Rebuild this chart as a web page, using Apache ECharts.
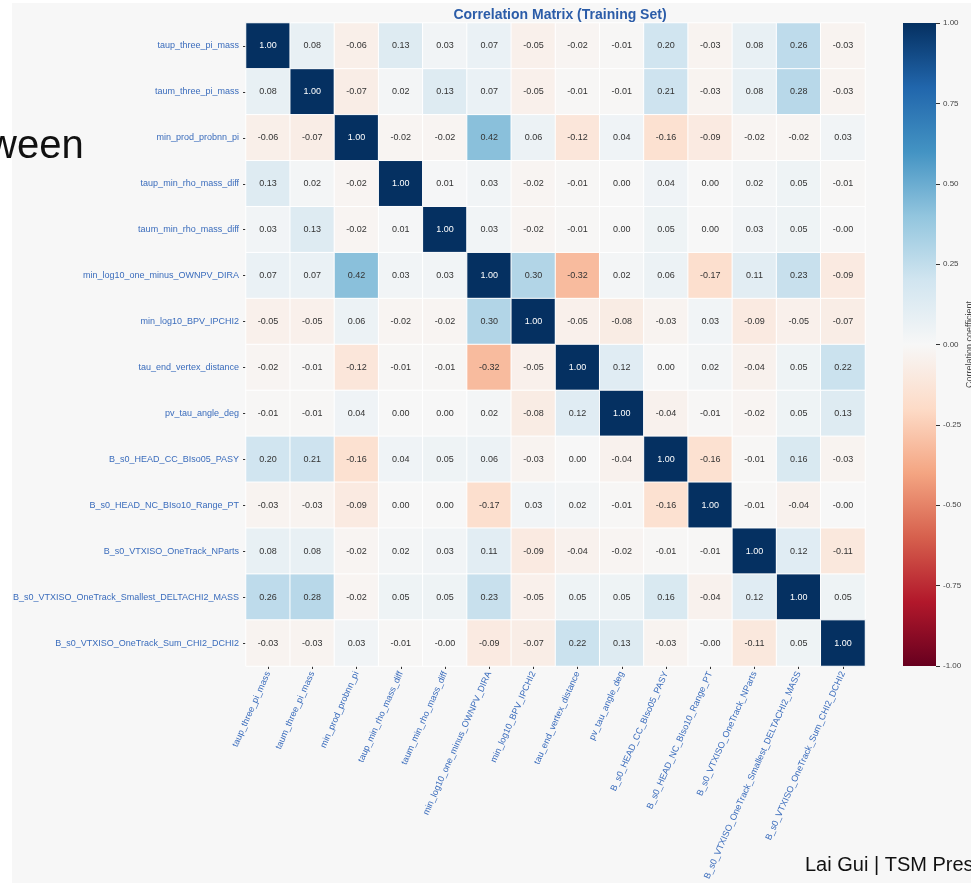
<!DOCTYPE html>
<html>
<head>
<meta charset="utf-8">
<script src="https://cdn.jsdelivr.net/npm/echarts@6/dist/echarts.min.js"></script>
<style>
html,body{margin:0;padding:0;background:#ffffff;}
#chart{width:971px;height:883px;}
</style>
</head>
<body>
<div id="chart"></div>
<script>
var variables = [
  "taup_three_pi_mass",
  "taum_three_pi_mass",
  "min_prod_probnn_pi",
  "taup_min_rho_mass_diff",
  "taum_min_rho_mass_diff",
  "min_log10_one_minus_OWNPV_DIRA",
  "min_log10_BPV_IPCHI2",
  "tau_end_vertex_distance",
  "pv_tau_angle_deg",
  "B_s0_HEAD_CC_BIso05_PASY",
  "B_s0_HEAD_NC_BIso10_Range_PT",
  "B_s0_VTXISO_OneTrack_NParts",
  "B_s0_VTXISO_OneTrack_Smallest_DELTACHI2_MASS",
  "B_s0_VTXISO_OneTrack_Sum_CHI2_DCHI2"
];

var row_taup_three_pi_mass = [1.00, 0.08, -0.06, 0.13, 0.03, 0.07, -0.05, -0.02, -0.01, 0.20, -0.03, 0.08, 0.26, -0.03];
var row_taum_three_pi_mass = [0.08, 1.00, -0.07, 0.02, 0.13, 0.07, -0.05, -0.01, -0.01, 0.21, -0.03, 0.08, 0.28, -0.03];
var row_min_prod_probnn_pi = [-0.06, -0.07, 1.00, -0.02, -0.02, 0.42, 0.06, -0.12, 0.04, -0.16, -0.09, -0.02, -0.02, 0.03];
var row_taup_min_rho_mass_diff = [0.13, 0.02, -0.02, 1.00, 0.01, 0.03, -0.02, -0.01, 0.00, 0.04, 0.00, 0.02, 0.05, -0.01];
var row_taum_min_rho_mass_diff = [0.03, 0.13, -0.02, 0.01, 1.00, 0.03, -0.02, -0.01, 0.00, 0.05, 0.00, 0.03, 0.05, -0.002];
var row_min_log10_one_minus_OWNPV_DIRA = [0.07, 0.07, 0.42, 0.03, 0.03, 1.00, 0.30, -0.32, 0.02, 0.06, -0.17, 0.11, 0.23, -0.09];
var row_min_log10_BPV_IPCHI2 = [-0.05, -0.05, 0.06, -0.02, -0.02, 0.30, 1.00, -0.05, -0.08, -0.03, 0.03, -0.09, -0.05, -0.07];
var row_tau_end_vertex_distance = [-0.02, -0.01, -0.12, -0.01, -0.01, -0.32, -0.05, 1.00, 0.12, 0.00, 0.02, -0.04, 0.05, 0.22];
var row_pv_tau_angle_deg = [-0.01, -0.01, 0.04, 0.00, 0.00, 0.02, -0.08, 0.12, 1.00, -0.04, -0.01, -0.02, 0.05, 0.13];
var row_B_s0_HEAD_CC_BIso05_PASY = [0.20, 0.21, -0.16, 0.04, 0.05, 0.06, -0.03, 0.00, -0.04, 1.00, -0.16, -0.01, 0.16, -0.03];
var row_B_s0_HEAD_NC_BIso10_Range_PT = [-0.03, -0.03, -0.09, 0.00, 0.00, -0.17, 0.03, 0.02, -0.01, -0.16, 1.00, -0.01, -0.04, -0.002];
var row_B_s0_VTXISO_OneTrack_NParts = [0.08, 0.08, -0.02, 0.02, 0.03, 0.11, -0.09, -0.04, -0.02, -0.01, -0.01, 1.00, 0.12, -0.11];
var row_B_s0_VTXISO_OneTrack_Smallest_DELTACHI2_MASS = [0.26, 0.28, -0.02, 0.05, 0.05, 0.23, -0.05, 0.05, 0.05, 0.16, -0.04, 0.12, 1.00, 0.05];
var row_B_s0_VTXISO_OneTrack_Sum_CHI2_DCHI2 = [-0.03, -0.03, 0.03, -0.01, -0.002, -0.09, -0.07, 0.22, 0.13, -0.03, -0.002, -0.11, 0.05, 1.00];

var matrixRows = [
  row_taup_three_pi_mass, row_taum_three_pi_mass, row_min_prod_probnn_pi,
  row_taup_min_rho_mass_diff, row_taum_min_rho_mass_diff, row_min_log10_one_minus_OWNPV_DIRA,
  row_min_log10_BPV_IPCHI2, row_tau_end_vertex_distance, row_pv_tau_angle_deg,
  row_B_s0_HEAD_CC_BIso05_PASY, row_B_s0_HEAD_NC_BIso10_Range_PT, row_B_s0_VTXISO_OneTrack_NParts,
  row_B_s0_VTXISO_OneTrack_Smallest_DELTACHI2_MASS, row_B_s0_VTXISO_OneTrack_Sum_CHI2_DCHI2
];

var colorbarMin = -1, colorbarMax = 1, colorbarStep = 0.25;
var rdbu = ['#67001f','#b2182b','#d6604d','#f4a582','#fddbc7','#f7f7f7','#d1e5f0','#92c5de','#4393c3','#2166ac','#053061'];

var FONT = "'Liberation Sans', Arial, sans-serif";

function fmt(v){
  var s = Math.abs(v).toFixed(2);
  return (v < 0 ? '-' : '') + s;
}

var heatData = [];
for (var r = 0; r < matrixRows.length; r++) {
  for (var c = 0; c < matrixRows[r].length; c++) {
    var v = matrixRows[r][c];
    heatData.push({
      value: [c, r, v],
      label: { color: Math.abs(v) > 0.6 ? '#ffffff' : '#333333' }
    });
  }
}

// colorbar gradient stops (top = max, bottom = min)
var gradStops = rdbu.slice().reverse().map(function(col, i){
  return { offset: i / (rdbu.length - 1), color: col };
});

var chart = echarts.init(document.getElementById('chart'), null, {renderer: 'canvas'});

var option = {
  backgroundColor: '#ffffff',
  animation: false,
  textStyle: { fontFamily: FONT },
  graphic: [
    { type: 'rect', z: -10, shape: { x: 12, y: 3, width: 959, height: 880 }, style: { fill: '#f7f7f7' } },
    { type: 'rect', z: -5, shape: { x: 903, y: 23, width: 33, height: 643 },
      style: { fill: new echarts.graphic.LinearGradient(0, 0, 0, 1, gradStops) } },
    { type: 'text', z: 100, left: -12, top: 127, style: { text: 'ween', font: '40px ' + FONT, fill: '#111111' } },
    { type: 'text', z: 100, left: 805, top: 855, style: { text: 'Lai Gui | TSM Pres', font: '20px ' + FONT, fill: '#111111' } }
  ],
  title: {
    text: 'Correlation Matrix (Training Set)',
    left: 555, textAlign: 'center', top: 3,
    textStyle: { fontSize: 14, fontWeight: 'bold', color: '#2b5ca8', fontFamily: FONT }
  },
  grid: [
    { left: 246, top: 23, width: 619, height: 643, outerBoundsMode: 'none', containLabel: false },
    { left: 903, top: 23, width: 33, height: 643, outerBoundsMode: 'none', containLabel: false }
  ],
  xAxis: [
    {
      type: 'category', gridIndex: 0, data: variables,
      axisLine: { show: false },
      axisTick: { show: true, alignWithLabel: true, length: 3, lineStyle: { color: '#333', width: 1 } },
      axisLabel: { rotate: 66, fontSize: 9, color: '#3a6cbc', margin: 6, interval: 0, fontFamily: FONT },
      splitArea: { show: false }
    },
    { type: 'value', gridIndex: 1, show: false, min: 0, max: 1 }
  ],
  yAxis: [
    {
      type: 'category', gridIndex: 0, data: variables, inverse: true,
      axisLine: { show: false },
      axisTick: { show: true, alignWithLabel: true, length: 3, lineStyle: { color: '#333', width: 1 } },
      axisLabel: { fontSize: 9, color: '#3a6cbc', margin: 7, interval: 0, fontFamily: FONT }
    },
    {
      type: 'value', gridIndex: 1, position: 'right', z: 10,
      min: colorbarMin, max: colorbarMax, interval: colorbarStep,
      axisLine: { show: false, onZero: false },
      splitLine: { show: false },
      axisTick: { show: true, inside: false, length: 4, lineStyle: { color: '#333', width: 1 } },
      axisLabel: { fontSize: 8, color: '#444', margin: 7, formatter: function(v){ return fmt(v); } },
      name: 'Correlation coefficient', nameLocation: 'middle', nameRotate: 90, nameGap: 26,
      nameTextStyle: { fontSize: 9, color: '#444' }
    }
  ],
  visualMap: {
    type: 'continuous', min: colorbarMin, max: colorbarMax,
    seriesIndex: 0, show: false,
    inRange: { color: rdbu }
  },
  series: [{
    type: 'heatmap', xAxisIndex: 0, yAxisIndex: 0,
    data: heatData,
    label: { show: true, fontSize: 9, fontFamily: FONT, formatter: function(p){ return fmt(p.value[2]); } },
    itemStyle: { borderColor: '#ffffff', borderWidth: 1 },
    emphasis: { disabled: true }
  }]
};
chart.setOption(option);
</script>
</body>
</html>
